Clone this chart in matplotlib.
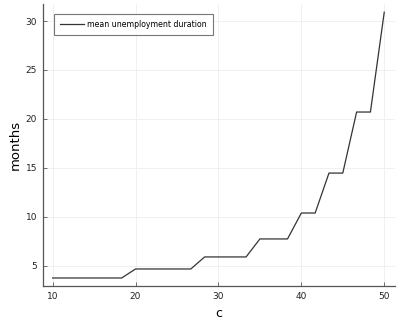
import numpy as np
import matplotlib
matplotlib.use("Agg")
import matplotlib.pyplot as plt

# grid of unemployment compensation values and mean duration (months)
c_vals = np.linspace(10, 50, 25)
durations = [3.74, 3.74, 3.74, 3.74, 3.74, 3.74,
             4.66, 4.66, 4.66, 4.66, 4.66,
             5.89, 5.89, 5.89, 5.89,
             7.73, 7.73, 7.73,
             10.38, 10.38,
             14.46, 14.46,
             20.7, 20.7,
             30.9]

plt.rcParams['font.family'] = ['DejaVu Sans']

fig = plt.figure(figsize=(3.97, 3.2), dpi=100)
ax = fig.add_axes([0.1075, 0.105, 0.8875, 0.8825])

ax.plot(c_vals, durations, color='#333333', lw=0.9, label='mean unemployment duration')

ax.set_xlim(8.8, 51.3)
ax.set_ylim(2.88, 31.74)
ax.set_xticks([10, 20, 30, 40, 50])
ax.set_yticks([5, 10, 15, 20, 25, 30])
ax.grid(True, color='#eeeeee', lw=0.6)
ax.set_axisbelow(True)

for s in ['top', 'right']:
    ax.spines[s].set_visible(False)
for s in ['left', 'bottom']:
    ax.spines[s].set_color('#555555')
    ax.spines[s].set_linewidth(0.9)

ax.tick_params(direction='in', length=3, width=0.6, colors='#555555',
               labelsize=6.5, labelcolor='#222222', pad=4)

ax.set_xlabel('c', fontsize=9, labelpad=4)
ax.set_ylabel('months', fontsize=9.5, labelpad=3)

leg = ax.legend(loc='upper left', fontsize=5.6, frameon=True, fancybox=False,
                edgecolor='#555555', handlelength=3.0, borderpad=0.8,
                handletextpad=0.5, borderaxespad=0,
                bbox_to_anchor=(0.032, 0.966))
leg.get_frame().set_linewidth(0.8)

fig.savefig('out.png', dpi=100)
